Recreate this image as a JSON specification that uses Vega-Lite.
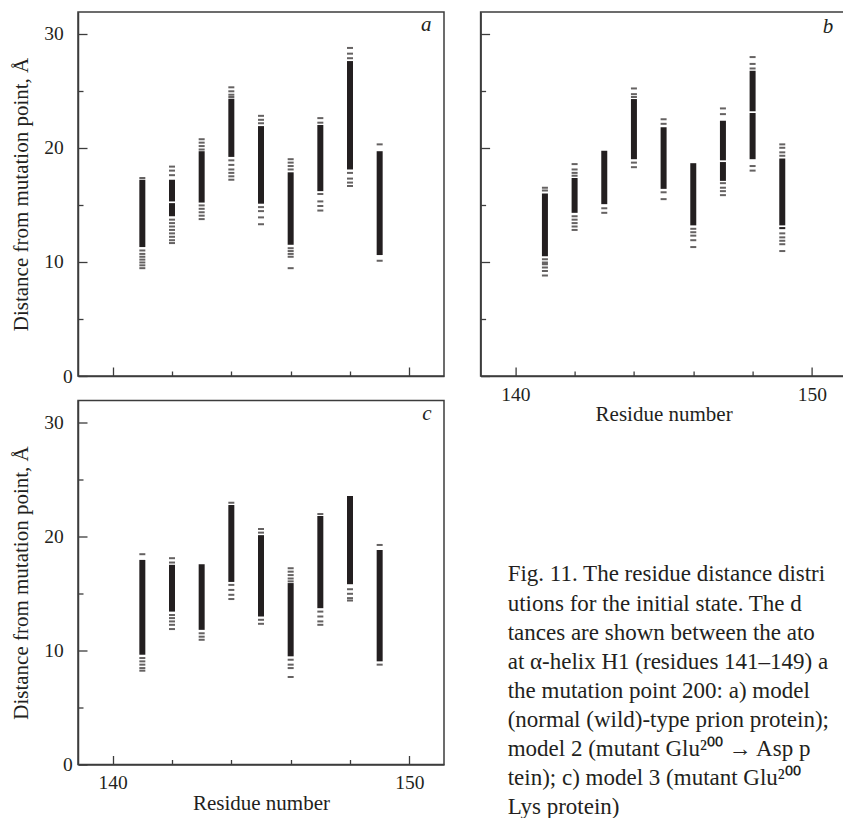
{
  "$schema": "https://vega.github.io/schema/vega-lite/v6.json",
  "padding": {"left": 10, "top": 11, "right": 0, "bottom": 0},
  "background": "white",
  "config": {
    "view": {"stroke": "#3c3c3c", "strokeWidth": 1.5},
    "axis": {
      "grid": false,
      "domainColor": "#3c3c3c",
      "domainWidth": 1.5,
      "tickColor": "#3c3c3c",
      "tickWidth": 1.3,
      "labelFont": "Liberation Serif",
      "labelFontSize": 19.5,
      "labelColor": "#231f20",
      "titleFont": "Liberation Serif",
      "titleFontSize": 21,
      "titleFontWeight": "normal",
      "titleColor": "#231f20"
    }
  },
  "datasets": {
    "blocks": [
      {"p": "a", "r": 141, "lo": 11.3, "hi": 17.2},
      {"p": "a", "r": 142, "lo": 15.3, "hi": 17.2},
      {"p": "a", "r": 142, "lo": 14.0, "hi": 15.15},
      {"p": "a", "r": 143, "lo": 15.2, "hi": 19.7},
      {"p": "a", "r": 144, "lo": 19.2, "hi": 24.3},
      {"p": "a", "r": 145, "lo": 15.1, "hi": 21.9},
      {"p": "a", "r": 146, "lo": 11.5, "hi": 17.85},
      {"p": "a", "r": 147, "lo": 16.2, "hi": 22.0},
      {"p": "a", "r": 148, "lo": 18.1, "hi": 27.6},
      {"p": "a", "r": 149, "lo": 10.6, "hi": 19.7},
      {"p": "b", "r": 141, "lo": 10.5, "hi": 16.0},
      {"p": "b", "r": 142, "lo": 14.3, "hi": 17.35},
      {"p": "b", "r": 143, "lo": 15.06, "hi": 19.74},
      {"p": "b", "r": 144, "lo": 19.0, "hi": 24.27},
      {"p": "b", "r": 145, "lo": 16.4, "hi": 21.8},
      {"p": "b", "r": 146, "lo": 13.2, "hi": 18.65},
      {"p": "b", "r": 147, "lo": 18.9, "hi": 22.37},
      {"p": "b", "r": 147, "lo": 17.1, "hi": 18.75},
      {"p": "b", "r": 148, "lo": 23.2, "hi": 26.75},
      {"p": "b", "r": 148, "lo": 19.0, "hi": 23.05},
      {"p": "b", "r": 149, "lo": 13.2, "hi": 19.06},
      {"p": "b", "r": 149, "lo": 12.87, "hi": 13.05},
      {"p": "c", "r": 141, "lo": 9.62, "hi": 17.93},
      {"p": "c", "r": 142, "lo": 13.4, "hi": 17.5},
      {"p": "c", "r": 143, "lo": 11.8, "hi": 17.55},
      {"p": "c", "r": 144, "lo": 16.0, "hi": 22.74},
      {"p": "c", "r": 145, "lo": 12.97, "hi": 20.1},
      {"p": "c", "r": 146, "lo": 9.48, "hi": 15.9},
      {"p": "c", "r": 147, "lo": 13.7, "hi": 21.78},
      {"p": "c", "r": 148, "lo": 15.8, "hi": 23.53},
      {"p": "c", "r": 149, "lo": 9.04, "hi": 18.8}
    ],
    "ticks": [
      {"p": "a", "r": 141, "d": 17.35}, {"p": "a", "r": 141, "d": 11.0}, {"p": "a", "r": 141, "d": 10.7}, {"p": "a", "r": 141, "d": 10.45}, {"p": "a", "r": 141, "d": 10.2}, {"p": "a", "r": 141, "d": 9.95}, {"p": "a", "r": 141, "d": 9.7}, {"p": "a", "r": 141, "d": 9.45},
      {"p": "a", "r": 142, "d": 18.35}, {"p": "a", "r": 142, "d": 18.0}, {"p": "a", "r": 142, "d": 17.6}, {"p": "a", "r": 142, "d": 13.7}, {"p": "a", "r": 142, "d": 13.4}, {"p": "a", "r": 142, "d": 13.1}, {"p": "a", "r": 142, "d": 12.8}, {"p": "a", "r": 142, "d": 12.5}, {"p": "a", "r": 142, "d": 12.2}, {"p": "a", "r": 142, "d": 11.9}, {"p": "a", "r": 142, "d": 11.65},
      {"p": "a", "r": 143, "d": 20.75}, {"p": "a", "r": 143, "d": 20.45}, {"p": "a", "r": 143, "d": 20.15}, {"p": "a", "r": 143, "d": 19.85}, {"p": "a", "r": 143, "d": 14.95}, {"p": "a", "r": 143, "d": 14.65}, {"p": "a", "r": 143, "d": 14.35}, {"p": "a", "r": 143, "d": 14.05}, {"p": "a", "r": 143, "d": 13.75},
      {"p": "a", "r": 144, "d": 25.3}, {"p": "a", "r": 144, "d": 24.95}, {"p": "a", "r": 144, "d": 24.65}, {"p": "a", "r": 144, "d": 24.45}, {"p": "a", "r": 144, "d": 18.9}, {"p": "a", "r": 144, "d": 18.5}, {"p": "a", "r": 144, "d": 18.1}, {"p": "a", "r": 144, "d": 17.8}, {"p": "a", "r": 144, "d": 17.5}, {"p": "a", "r": 144, "d": 17.2},
      {"p": "a", "r": 145, "d": 22.8}, {"p": "a", "r": 145, "d": 22.45}, {"p": "a", "r": 145, "d": 22.15}, {"p": "a", "r": 145, "d": 14.8}, {"p": "a", "r": 145, "d": 14.45}, {"p": "a", "r": 145, "d": 13.9}, {"p": "a", "r": 145, "d": 13.3},
      {"p": "a", "r": 146, "d": 19.0}, {"p": "a", "r": 146, "d": 18.7}, {"p": "a", "r": 146, "d": 18.4}, {"p": "a", "r": 146, "d": 18.1}, {"p": "a", "r": 146, "d": 11.2}, {"p": "a", "r": 146, "d": 10.95}, {"p": "a", "r": 146, "d": 10.7}, {"p": "a", "r": 146, "d": 10.45}, {"p": "a", "r": 146, "d": 9.45},
      {"p": "a", "r": 147, "d": 22.6}, {"p": "a", "r": 147, "d": 22.2}, {"p": "a", "r": 147, "d": 15.95}, {"p": "a", "r": 147, "d": 15.3}, {"p": "a", "r": 147, "d": 14.9}, {"p": "a", "r": 147, "d": 14.5},
      {"p": "a", "r": 148, "d": 28.75}, {"p": "a", "r": 148, "d": 28.25}, {"p": "a", "r": 148, "d": 27.85}, {"p": "a", "r": 148, "d": 17.8}, {"p": "a", "r": 148, "d": 17.3}, {"p": "a", "r": 148, "d": 16.95}, {"p": "a", "r": 148, "d": 16.65},
      {"p": "a", "r": 149, "d": 20.3}, {"p": "a", "r": 149, "d": 10.1},
      {"p": "b", "r": 141, "d": 16.5}, {"p": "b", "r": 141, "d": 16.25}, {"p": "b", "r": 141, "d": 10.23}, {"p": "b", "r": 141, "d": 9.95}, {"p": "b", "r": 141, "d": 9.8}, {"p": "b", "r": 141, "d": 9.5}, {"p": "b", "r": 141, "d": 9.2}, {"p": "b", "r": 141, "d": 8.8},
      {"p": "b", "r": 142, "d": 18.57}, {"p": "b", "r": 142, "d": 18.1}, {"p": "b", "r": 142, "d": 17.8}, {"p": "b", "r": 142, "d": 17.55}, {"p": "b", "r": 142, "d": 14.0}, {"p": "b", "r": 142, "d": 13.7}, {"p": "b", "r": 142, "d": 13.4}, {"p": "b", "r": 142, "d": 13.1}, {"p": "b", "r": 142, "d": 12.8},
      {"p": "b", "r": 143, "d": 14.7}, {"p": "b", "r": 143, "d": 14.3},
      {"p": "b", "r": 144, "d": 25.2}, {"p": "b", "r": 144, "d": 24.7}, {"p": "b", "r": 144, "d": 24.45}, {"p": "b", "r": 144, "d": 18.7}, {"p": "b", "r": 144, "d": 18.3},
      {"p": "b", "r": 145, "d": 22.5}, {"p": "b", "r": 145, "d": 22.1}, {"p": "b", "r": 145, "d": 16.1}, {"p": "b", "r": 145, "d": 15.5},
      {"p": "b", "r": 146, "d": 12.9}, {"p": "b", "r": 146, "d": 12.6}, {"p": "b", "r": 146, "d": 12.3}, {"p": "b", "r": 146, "d": 11.9}, {"p": "b", "r": 146, "d": 11.3},
      {"p": "b", "r": 147, "d": 23.45}, {"p": "b", "r": 147, "d": 22.95}, {"p": "b", "r": 147, "d": 16.9}, {"p": "b", "r": 147, "d": 16.5}, {"p": "b", "r": 147, "d": 16.2}, {"p": "b", "r": 147, "d": 15.85},
      {"p": "b", "r": 148, "d": 27.95}, {"p": "b", "r": 148, "d": 27.35}, {"p": "b", "r": 148, "d": 26.95}, {"p": "b", "r": 148, "d": 18.4}, {"p": "b", "r": 148, "d": 18.0},
      {"p": "b", "r": 149, "d": 20.3}, {"p": "b", "r": 149, "d": 20.0}, {"p": "b", "r": 149, "d": 19.6}, {"p": "b", "r": 149, "d": 19.3}, {"p": "b", "r": 149, "d": 12.5}, {"p": "b", "r": 149, "d": 12.15}, {"p": "b", "r": 149, "d": 11.85}, {"p": "b", "r": 149, "d": 11.55}, {"p": "b", "r": 149, "d": 10.95},
      {"p": "c", "r": 141, "d": 18.43}, {"p": "c", "r": 141, "d": 9.33}, {"p": "c", "r": 141, "d": 9.04}, {"p": "c", "r": 141, "d": 8.75}, {"p": "c", "r": 141, "d": 8.45}, {"p": "c", "r": 141, "d": 8.22},
      {"p": "c", "r": 142, "d": 18.08}, {"p": "c", "r": 142, "d": 17.7}, {"p": "c", "r": 142, "d": 13.1}, {"p": "c", "r": 142, "d": 12.83}, {"p": "c", "r": 142, "d": 12.54}, {"p": "c", "r": 142, "d": 12.24}, {"p": "c", "r": 142, "d": 11.87},
      {"p": "c", "r": 143, "d": 11.5}, {"p": "c", "r": 143, "d": 11.2}, {"p": "c", "r": 143, "d": 10.93},
      {"p": "c", "r": 144, "d": 22.94}, {"p": "c", "r": 144, "d": 15.74}, {"p": "c", "r": 144, "d": 15.3}, {"p": "c", "r": 144, "d": 14.87}, {"p": "c", "r": 144, "d": 14.5},
      {"p": "c", "r": 145, "d": 20.64}, {"p": "c", "r": 145, "d": 20.32}, {"p": "c", "r": 145, "d": 12.68}, {"p": "c", "r": 145, "d": 12.33},
      {"p": "c", "r": 146, "d": 17.2}, {"p": "c", "r": 146, "d": 16.9}, {"p": "c", "r": 146, "d": 16.6}, {"p": "c", "r": 146, "d": 16.3}, {"p": "c", "r": 146, "d": 16.05}, {"p": "c", "r": 146, "d": 9.18}, {"p": "c", "r": 146, "d": 8.75}, {"p": "c", "r": 146, "d": 8.45}, {"p": "c", "r": 146, "d": 7.67},
      {"p": "c", "r": 147, "d": 21.95}, {"p": "c", "r": 147, "d": 13.4}, {"p": "c", "r": 147, "d": 12.97}, {"p": "c", "r": 147, "d": 12.54}, {"p": "c", "r": 147, "d": 12.24},
      {"p": "c", "r": 148, "d": 15.36}, {"p": "c", "r": 148, "d": 14.96}, {"p": "c", "r": 148, "d": 14.58}, {"p": "c", "r": 148, "d": 14.37},
      {"p": "c", "r": 149, "d": 19.24}, {"p": "c", "r": 149, "d": 8.75}
    ],
    "caption": [
      {"line": 1, "text": "Fig. 11. The residue distance distri"},
      {"line": 2, "text": "utions for the initial state.  The d"},
      {"line": 3, "text": "tances are shown between the ato"},
      {"line": 4, "text": "at α-helix H1 (residues 141–149) a"},
      {"line": 5, "text": "the mutation point 200:  a) model"},
      {"line": 6, "text": "(normal (wild)-type prion protein);"},
      {"line": 7, "text": "model 2 (mutant Glu²⁰⁰ → Asp p"},
      {"line": 8, "text": "tein); c) model 3 (mutant Glu²⁰⁰"},
      {"line": 9, "text": "Lys protein)"}
    ]
  },
  "columns": 2,
  "spacing": {"row": 24.5, "column": 36.6},
  "bounds": "flush",
  "concat": [
    {
      "width": 366, "height": 364,
      "layer": [
        {
          "data": {"name": "blocks"},
          "transform": [{"filter": "datum.p === 'a'"}],
          "mark": {"type": "bar", "size": 6, "color": "#231f20"},
          "encoding": {
            "x": {"field": "r", "type": "quantitative", "scale": {"domain": [139, 151], "nice": false, "zero": false},
              "axis": {"values": [140, 141, 142, 143, 144, 145, 146, 147, 148, 149, 150], "labels": false, "title": null,
                "tickSize": {"condition": {"test": "datum.value % 5 === 0", "value": -9}, "value": -5}}},
            "y": {"field": "lo", "type": "quantitative", "scale": {"domain": [0, 31.9], "nice": false},
              "axis": {"values": [0, 5, 10, 15, 20, 25, 30], "labelExpr": "datum.value % 10 === 0 ? datum.label : ''",
                "tickSize": {"condition": {"test": "datum.value % 10 === 0", "value": -9}, "value": -5},
                "labelPadding": {"condition": {"test": "datum.value === 0", "value": 14.7}, "value": 23.7},
                "title": "Distance from mutation point, Å", "titlePadding": 12}},
            "y2": {"field": "hi"}
          }
        },
        {
          "data": {"name": "ticks"},
          "transform": [{"filter": "datum.p === 'a'"}],
          "mark": {"type": "tick", "orient": "horizontal", "size": 6, "thickness": 2, "color": "#231f20"},
          "encoding": {"x": {"field": "r", "type": "quantitative"}, "y": {"field": "d", "type": "quantitative"}}
        },
        {
          "data": {"values": [{"label": "a"}]},
          "mark": {"type": "text", "font": "Liberation Serif", "fontStyle": "italic", "fontSize": 21, "align": "right", "baseline": "alphabetic", "color": "#231f20"},
          "encoding": {"x": {"datum": 150.75}, "y": {"datum": 30.2}, "text": {"field": "label"}}
        }
      ]
    },
    {
      "width": 366, "height": 364,
      "layer": [
        {
          "data": {"name": "blocks"},
          "transform": [{"filter": "datum.p === 'b'"}],
          "mark": {"type": "bar", "size": 6, "color": "#231f20"},
          "encoding": {
            "x": {"field": "r", "type": "quantitative", "scale": {"domain": [139, 151], "nice": false, "zero": false},
              "axis": {"values": [140, 141, 142, 143, 144, 145, 146, 147, 148, 149, 150], "labelExpr": "datum.value % 5 === 0 ? datum.label : ''",
                "tickSize": {"condition": {"test": "datum.value % 5 === 0", "value": -9}, "value": -5},
                "labelPadding": 18, "title": "Residue number", "titlePadding": 0}},
            "y": {"field": "lo", "type": "quantitative", "scale": {"domain": [0, 31.9], "nice": false},
              "axis": {"values": [0, 5, 10, 15, 20, 25, 30], "labels": false, "title": null,
                "tickSize": {"condition": {"test": "datum.value % 10 === 0", "value": -9}, "value": -5}}},
            "y2": {"field": "hi"}
          }
        },
        {
          "data": {"name": "ticks"},
          "transform": [{"filter": "datum.p === 'b'"}],
          "mark": {"type": "tick", "orient": "horizontal", "size": 6, "thickness": 2, "color": "#231f20"},
          "encoding": {"x": {"field": "r", "type": "quantitative"}, "y": {"field": "d", "type": "quantitative"}}
        },
        {
          "data": {"values": [{"label": "b"}]},
          "mark": {"type": "text", "font": "Liberation Serif", "fontStyle": "italic", "fontSize": 21, "align": "right", "baseline": "alphabetic", "color": "#231f20"},
          "encoding": {"x": {"datum": 150.72}, "y": {"datum": 30.1}, "text": {"field": "label"}}
        }
      ]
    },
    {
      "width": 366, "height": 364,
      "layer": [
        {
          "data": {"name": "blocks"},
          "transform": [{"filter": "datum.p === 'c'"}],
          "mark": {"type": "bar", "size": 6, "color": "#231f20"},
          "encoding": {
            "x": {"field": "r", "type": "quantitative", "scale": {"domain": [139, 151], "nice": false, "zero": false},
              "axis": {"values": [140, 141, 142, 143, 144, 145, 146, 147, 148, 149, 150], "labelExpr": "datum.value % 5 === 0 ? datum.label : ''",
                "tickSize": {"condition": {"test": "datum.value % 5 === 0", "value": -9}, "value": -5},
                "labelPadding": 18, "title": "Residue number", "titlePadding": 0}},
            "y": {"field": "lo", "type": "quantitative", "scale": {"domain": [0, 31.9], "nice": false},
              "axis": {"values": [0, 5, 10, 15, 20, 25, 30], "labelExpr": "datum.value % 10 === 0 ? datum.label : ''",
                "tickSize": {"condition": {"test": "datum.value % 10 === 0", "value": -9}, "value": -5},
                "labelPadding": {"condition": {"test": "datum.value === 0", "value": 14.7}, "value": 23.7},
                "title": "Distance from mutation point, Å", "titlePadding": 12}},
            "y2": {"field": "hi"}
          }
        },
        {
          "data": {"name": "ticks"},
          "transform": [{"filter": "datum.p === 'c'"}],
          "mark": {"type": "tick", "orient": "horizontal", "size": 6, "thickness": 2, "color": "#231f20"},
          "encoding": {"x": {"field": "r", "type": "quantitative"}, "y": {"field": "d", "type": "quantitative"}}
        },
        {
          "data": {"values": [{"label": "c"}]},
          "mark": {"type": "text", "font": "Liberation Serif", "fontStyle": "italic", "fontSize": 21, "align": "right", "baseline": "alphabetic", "color": "#231f20"},
          "encoding": {"x": {"datum": 150.75}, "y": {"datum": 30.2}, "text": {"field": "label"}}
        }
      ]
    },
    {
      "width": 366, "height": 364,
      "view": {"stroke": null},
      "data": {"name": "caption"},
      "mark": {"type": "text", "font": "Liberation Serif", "fontSize": 23, "align": "left", "baseline": "alphabetic", "color": "#231f20"},
      "encoding": {
        "x": {"datum": 0.074, "type": "quantitative", "scale": {"domain": [0, 1], "nice": false, "zero": false}, "axis": null},
        "y": {"field": "line", "type": "quantitative", "scale": {"domain": [-5.241, 7.31], "reverse": true, "nice": false, "zero": false}, "axis": null},
        "text": {"field": "text"}
      }
    }
  ]
}
